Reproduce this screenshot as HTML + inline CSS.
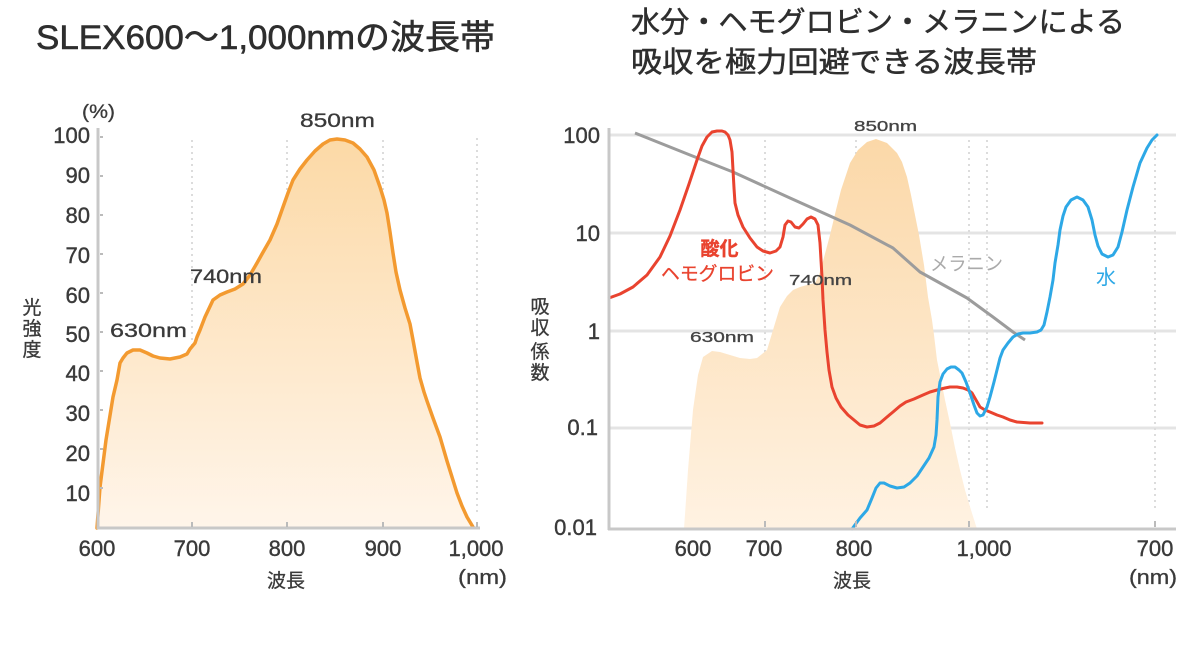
<!DOCTYPE html>
<html>
<head>
<meta charset="utf-8">
<style>
html,body{margin:0;padding:0;background:#fff;}
svg{display:block;}
text{font-family:"Liberation Sans","Noto Sans CJK JP",sans-serif;}
</style>
</head>
<body>
<svg width="1200" height="660" viewBox="0 0 1200 660" xmlns="http://www.w3.org/2000/svg">
<defs>
<linearGradient id="gl" x1="0" y1="139" x2="0" y2="528" gradientUnits="userSpaceOnUse">
<stop offset="0" stop-color="#FCD9A6"/>
<stop offset="1" stop-color="#FFF5EA"/>
</linearGradient>
<linearGradient id="gr" x1="0" y1="139" x2="0" y2="529" gradientUnits="userSpaceOnUse">
<stop offset="0" stop-color="#FBD8A8"/>
<stop offset="1" stop-color="#FFF2E2"/>
</linearGradient>
</defs>
<rect width="1200" height="660" fill="#fff"/>

<!-- ============ LEFT CHART ============ -->
<text x="36" y="49" font-size="34" fill="#2e2e2e" stroke="#2e2e2e" stroke-width="0.6" textLength="459" lengthAdjust="spacingAndGlyphs">SLEX600〜1,000nmの波長帯</text>

<g stroke="#dcdcdc" stroke-width="2" stroke-dasharray="2 4">
<line x1="192" y1="140" x2="192" y2="515"/>
<line x1="287" y1="140" x2="287" y2="515"/>
<line x1="383" y1="140" x2="383" y2="515"/>
<line x1="477" y1="138" x2="477" y2="515"/>
</g>

<path fill="url(#gl)" d="M97,528 L100,487 L106,440 L113,397 L117,380 L120,363 L123,358 L127,353 L133,350 L140,350 L147,353 L153,356 L160,358 L170,359 L180,357 L187,354 L190,349 L195,343 L197,337 L200,330 L205,317 L213,300 L220,295 L227,292 L235,289 L243,284 L250,275 L257,263 L262,254 L270,240 L277,224 L283,207 L288,193 L293,180 L300,169 L307,160 L315,151 L323,144 L330,140 L337,139 L345,140 L353,143 L360,149 L367,157 L374,170 L380,187 L384,200 L387,213 L390,232 L393,253 L396,272 L400,290 L405,308 L410,324 L413,340 L417,362 L420,378 L424,392 L427,401 L433,418 L440,437 L447,461 L457,493 L462,506 L467,517 L473,527 Z"/>
<path fill="none" stroke="#F39A30" stroke-width="3.5" stroke-linejoin="round" stroke-linecap="round" d="M97,528 L100,487 L106,440 L113,397 L117,380 L120,363 L123,358 L127,353 L133,350 L140,350 L147,353 L153,356 L160,358 L170,359 L180,357 L187,354 L190,349 L195,343 L197,337 L200,330 L205,317 L213,300 L220,295 L227,292 L235,289 L243,284 L250,275 L257,263 L262,254 L270,240 L277,224 L283,207 L288,193 L293,180 L300,169 L307,160 L315,151 L323,144 L330,140 L337,139 L345,140 L353,143 L360,149 L367,157 L374,170 L380,187 L384,200 L387,213 L390,232 L393,253 L396,272 L400,290 L405,308 L410,324 L413,340 L417,362 L420,378 L424,392 L427,401 L433,418 L440,437 L447,461 L457,493 L462,506 L467,517 L473,527"/>

<line x1="98" y1="128" x2="98" y2="529" stroke="#c8c8c8" stroke-width="3"/>
<line x1="97" y1="528" x2="480" y2="528" stroke="#c8c8c8" stroke-width="3"/>
<g stroke="#bbb" stroke-width="2">
<line x1="100" y1="137" x2="103" y2="137"/><line x1="100" y1="176" x2="103" y2="176"/>
<line x1="100" y1="215" x2="103" y2="215"/><line x1="100" y1="254" x2="103" y2="254"/>
<line x1="100" y1="293" x2="103" y2="293"/><line x1="100" y1="332" x2="103" y2="332"/>
<line x1="100" y1="371" x2="103" y2="371"/><line x1="100" y1="410" x2="103" y2="410"/>
<line x1="100" y1="449" x2="103" y2="449"/><line x1="100" y1="488" x2="103" y2="488"/>
<line x1="192" y1="522" x2="192" y2="527"/><line x1="287" y1="522" x2="287" y2="527"/>
<line x1="383" y1="522" x2="383" y2="527"/><line x1="477" y1="522" x2="477" y2="527"/>
</g>

<g font-size="22" fill="#3a3a3a" stroke="#3a3a3a" stroke-width="0.4" text-anchor="end">
<text x="90" y="143">100</text>
<text x="90" y="183">90</text>
<text x="90" y="223">80</text>
<text x="90" y="263">70</text>
<text x="90" y="303">60</text>
<text x="90" y="342">50</text>
<text x="90" y="381">40</text>
<text x="90" y="421">30</text>
<text x="90" y="461">20</text>
<text x="90" y="501">10</text>
</g>
<text x="82" y="118" font-size="19" fill="#3a3a3a" stroke="#3a3a3a" stroke-width="0.3" textLength="33" lengthAdjust="spacingAndGlyphs">(%)</text>

<g font-size="22" fill="#3a3a3a" stroke="#3a3a3a" stroke-width="0.4" text-anchor="middle">
<text x="97" y="556">600</text>
<text x="192" y="556">700</text>
<text x="287" y="556">800</text>
<text x="383" y="556">900</text>
<text x="476" y="556">1,000</text>
</g>
<text x="286" y="587" font-size="19" fill="#3a3a3a" stroke="#3a3a3a" stroke-width="0.3" text-anchor="middle">波長</text>
<text x="458" y="584" font-size="20" fill="#3a3a3a" stroke="#3a3a3a" stroke-width="0.3" textLength="49" lengthAdjust="spacingAndGlyphs">(nm)</text>
<g font-size="19" fill="#3a3a3a" stroke="#3a3a3a" stroke-width="0.3" text-anchor="middle">
<text x="32" y="314">光</text>
<text x="32" y="335">強</text>
<text x="32" y="356">度</text>
</g>

<g font-size="19" fill="#3a3a3a" stroke="#3a3a3a" stroke-width="0.3">
<text x="300" y="127" textLength="75" lengthAdjust="spacingAndGlyphs">850nm</text>
<text x="190" y="283" textLength="72" lengthAdjust="spacingAndGlyphs">740nm</text>
<text x="110" y="337" textLength="77" lengthAdjust="spacingAndGlyphs">630nm</text>
</g>

<!-- ============ RIGHT CHART ============ -->
<text x="631" y="32" font-size="29" fill="#2e2e2e" stroke="#2e2e2e" stroke-width="0.5" textLength="494" lengthAdjust="spacingAndGlyphs">水分・ヘモグロビン・メラニンによる</text>
<text x="631" y="72" font-size="29" fill="#2e2e2e" stroke="#2e2e2e" stroke-width="0.5" textLength="406" lengthAdjust="spacingAndGlyphs">吸収を極力回避できる波長帯</text>

<g stroke="#e4e4e4" stroke-width="3">
<line x1="609" y1="135" x2="1176" y2="135"/>
<line x1="609" y1="233" x2="1176" y2="233"/>
<line x1="609" y1="331" x2="1176" y2="331"/>
<line x1="609" y1="428" x2="1176" y2="428"/>
</g>
<g stroke="#dcdcdc" stroke-width="2" stroke-dasharray="2 4">
<line x1="765" y1="140" x2="765" y2="515"/>
<line x1="856" y1="140" x2="856" y2="515"/>
<line x1="969" y1="140" x2="969" y2="515"/>
<line x1="987" y1="140" x2="987" y2="508"/>
<line x1="1155" y1="140" x2="1155" y2="510"/>
</g>

<path fill="url(#gr)" d="M684,529 L686,500 L688,470 L693,410 L698,375 L703,357 L712,351 L720,352 L730,355 L740,358 L750,359 L757,358 L767,350 L773,330 L780,307 L787,296 L793,290 L800,287 L807,285 L815,283 L819,275 L822,265 L826,250 L830,235 L836,210 L841,190 L846,175 L850,163 L858,150 L867,142 L876,139 L887,143 L897,153 L902,162 L907,177 L911,195 L915,215 L919,235 L924,265 L928,297 L932,320 L934,335 L937,360 L941,380 L945,400 L950,423 L955,448 L960,470 L965,490 L971,510 L977,529 Z"/>

<polyline fill="none" stroke="#9c9c9c" stroke-width="3" stroke-linejoin="round" points="635,133 690,155 733,172 790,198 850,225 893,248 920,272 967,298 993,317 1013,332 1025,340"/>

<path fill="none" stroke="#E9432F" stroke-width="3" stroke-linejoin="round" stroke-linecap="round" d="M609,298 L620,294 L633,287 L647,275 L660,257 L670,236 L680,210 L689,184 L697,160 L702,146 L707,137 L712,132 L717,131 L722,131 L725,132 L728,135 L730,140 L732,152 L733,170 L734,188 L735,203 L738,215 L743,227 L750,238 L757,247 L763,251 L770,253 L776,251 L780,247 L783,237 L785,225 L788,221 L791,222 L795,227 L799,228 L803,224 L807,219 L811,217 L815,219 L818,225 L820,243 L821,260 L822,277 L823,300 L825,330 L827,352 L829,370 L832,387 L836,398 L841,407 L848,415 L854,420 L860,425 L867,427 L874,426 L880,423 L887,417 L893,412 L900,406 L906,402 L914,399 L923,395 L930,392 L937,390 L945,388 L950,387 L957,387 L963,388 L968,390 L972,393 L976,400 L980,407 L985,410 L990,412 L997,415 L1003,417 L1010,420 L1017,422 L1030,423 L1042,423"/>

<path fill="none" stroke="#2DA8E6" stroke-width="3" stroke-linejoin="round" stroke-linecap="round" d="M852,529 L860,518 L867,510 L872,498 L876,488 L880,483 L884,483 L890,486 L897,488 L904,487 L910,483 L917,476 L923,467 L929,458 L934,447 L936,435 L937,420 L938,397 L940,382 L943,374 L947,369 L951,367 L955,367 L959,370 L962,373 L966,382 L970,393 L974,405 L977,413 L980,416 L983,415 L987,407 L990,397 L994,382 L997,370 L1000,358 L1003,350 L1008,343 L1013,337 L1018,334 L1023,333 L1030,333 L1037,332 L1041,330 L1044,325 L1047,312 L1050,297 L1053,280 L1055,263 L1058,245 L1060,230 L1063,216 L1066,207 L1071,200 L1077,197 L1083,200 L1088,207 L1092,220 L1095,235 L1098,246 L1102,254 L1108,257 L1113,255 L1118,247 L1122,232 L1127,210 L1133,187 L1140,163 L1147,148 L1152,140 L1157,135"/>

<line x1="609" y1="128" x2="609" y2="530" stroke="#c8c8c8" stroke-width="3"/>
<line x1="608" y1="529" x2="1176" y2="529" stroke="#c8c8c8" stroke-width="3"/>
<g stroke="#bbb" stroke-width="2">
<line x1="765" y1="521" x2="765" y2="527"/><line x1="856" y1="521" x2="856" y2="527"/>
<line x1="969" y1="521" x2="969" y2="527"/><line x1="1155" y1="521" x2="1155" y2="527"/>
</g>

<g font-size="22" fill="#3a3a3a" stroke="#3a3a3a" stroke-width="0.4" text-anchor="end">
<text x="600" y="143">100</text>
<text x="600" y="241">10</text>
<text x="600" y="339">1</text>
<text x="598" y="435">0.1</text>
<text x="597" y="535">0.01</text>
</g>
<g font-size="19" fill="#3a3a3a" stroke="#3a3a3a" stroke-width="0.3" text-anchor="middle">
<text x="540" y="313">吸</text>
<text x="540" y="334">収</text>
<text x="540" y="358">係</text>
<text x="540" y="379">数</text>
</g>

<g font-size="22" fill="#3a3a3a" stroke="#3a3a3a" stroke-width="0.4" text-anchor="middle">
<text x="693" y="556">600</text>
<text x="764" y="556">700</text>
<text x="854" y="556">800</text>
<text x="984" y="556">1,000</text>
<text x="1155" y="556">700</text>
</g>
<text x="852" y="587" font-size="19" fill="#3a3a3a" stroke="#3a3a3a" stroke-width="0.3" text-anchor="middle">波長</text>
<text x="1129" y="584" font-size="20" fill="#3a3a3a" stroke="#3a3a3a" stroke-width="0.3" textLength="48" lengthAdjust="spacingAndGlyphs">(nm)</text>

<g font-size="15" fill="#444" stroke="#444" stroke-width="0.3">
<text x="854" y="131" textLength="63" lengthAdjust="spacingAndGlyphs">850nm</text>
<text x="789" y="285" textLength="63" lengthAdjust="spacingAndGlyphs">740nm</text>
<text x="690" y="342" textLength="64" lengthAdjust="spacingAndGlyphs">630nm</text>
</g>
<text x="930" y="270" font-size="19" fill="#aaa" textLength="73" lengthAdjust="spacingAndGlyphs">メラニン</text>
<text x="719.5" y="255" font-size="19" fill="#E9432F" stroke="#E9432F" stroke-width="0.4" font-weight="bold" text-anchor="middle">酸化</text>
<text x="661" y="280" font-size="19" fill="#E9432F" stroke="#E9432F" stroke-width="0.3" textLength="113" lengthAdjust="spacingAndGlyphs">ヘモグロビン</text>
<text x="1106" y="284" font-size="20" fill="#2DA8E6" text-anchor="middle">水</text>
</svg>
</body>
</html>
